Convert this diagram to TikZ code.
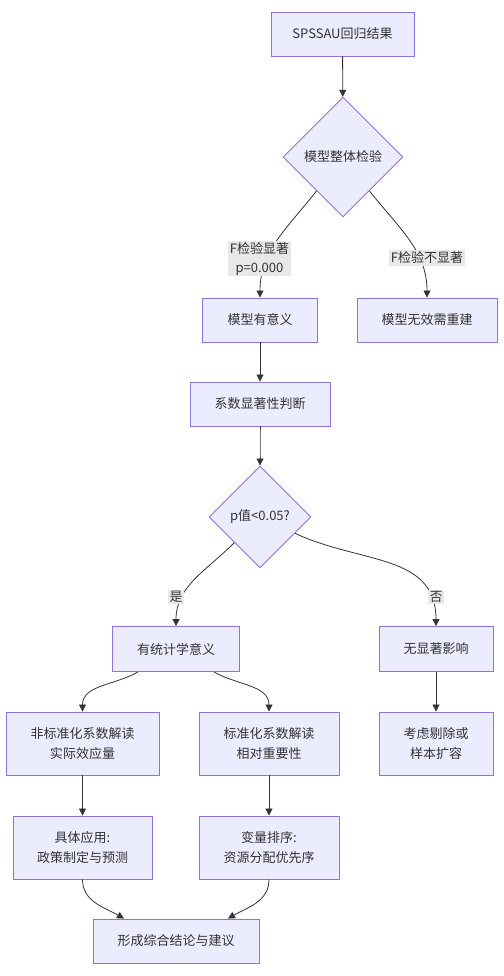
\documentclass[tikz,border=0pt]{standalone}
\usepackage{fontspec}
\setmainfont{Noto Sans CJK SC}
\usetikzlibrary{shapes.geometric,arrows.meta,calc}
\definecolor{boxfill}{HTML}{ECECFF}
\definecolor{boxline}{HTML}{9370DB}
\definecolor{edgec}{HTML}{333333}
\definecolor{lblfill}{HTML}{E8E8E8}
\begin{document}
\begin{tikzpicture}[x=1pt,y=-1pt,
 box/.style={rectangle,draw=boxline,fill=boxfill,line width=0.9pt,align=center,
   font=\fontsize{13}{20}\selectfont,text=edgec,inner sep=0pt},
 dia/.style={diamond,draw=boxline,fill=boxfill,line width=0.9pt,align=center,
   font=\fontsize{13}{20}\selectfont,text=edgec,inner sep=0pt},
 edge/.style={draw=edgec,line width=0.8pt,-{Triangle[length=7pt,width=7pt]}},
 lbl/.style={fill=lblfill,font=\fontsize{13}{19}\selectfont,text=edgec,inner sep=1.5pt,align=center}]
\useasboundingbox[fill=white] (0,0) rectangle (503,976);

\node[box,minimum width=143pt,minimum height=44pt] (n1) at (342.5,34) {SPSSAU回归结果};
\node[dia,minimum width=120pt,minimum height=120pt] (d1) at (343,157) {模型整体检验};
\node[box,minimum width=115pt,minimum height=44pt] (n2) at (260,320) {模型有意义};
\node[box,minimum width=140pt,minimum height=44pt] (n3) at (427,320) {模型无效需重建};
\node[box,minimum width=140pt,minimum height=44pt] (n4) at (260,404) {系数显著性判断};
\node[dia,minimum width=102pt,minimum height=102pt] (d2) at (260,517) {p值<0.05?};
\node[box,minimum width=127pt,minimum height=45pt] (n5) at (176,649) {有统计学意义};
\node[box,minimum width=114pt,minimum height=45pt] (n6) at (436,649) {无显著影响};
\node[box,minimum width=153pt,minimum height=63pt] (n7) at (82.5,743.5) {非标准化系数解读\\实际效应量};
\node[box,minimum width=140pt,minimum height=63pt] (n8) at (269,743.5) {标准化系数解读\\相对重要性};
\node[box,minimum width=114pt,minimum height=63pt] (n9) at (436,743.5) {考虑剔除或\\样本扩容};
\node[box,minimum width=139pt,minimum height=63pt] (n10) at (82.5,847.5) {具体应用:\\政策制定与预测};
\node[box,minimum width=140pt,minimum height=63pt] (n11) at (269,847.5) {变量排序:\\资源分配优先序};
\node[box,minimum width=166pt,minimum height=44pt] (n12) at (176,941) {形成综合结论与建议};

\coordinate (s57) at ($(n5.south)+(-38,0)$);
\coordinate (s58) at ($(n5.south)+(38,0)$);
\coordinate (e1012) at ($(n12.north)+(-52,0)$);
\coordinate (e1112) at ($(n12.north)+(52,0)$);

\draw[edge] (n1) -- (d1);
\draw[edge] (d1) to[out=-128,in=90] (n2);
\draw[edge] (d1) to[out=-52,in=90] (n3);
\draw[edge] (n2) -- (n4);
\draw[edge] (n4) to[out=-90,in=90] (d2);
\draw[edge] (d2) to[out=-135,in=90] (n5);
\draw[edge] (d2) to[out=-25,in=90,looseness=1.1] (n6);
\draw[edge] (s57) to[out=-150,in=90] (n7);
\draw[edge] (s58) to[out=-30,in=90] (n8);
\draw[edge] (n6) -- (n9);
\draw[edge] (n7) -- (n10);
\draw[edge] (n8) -- (n11);
\draw[edge] (n10) to[out=-90,in=150] (e1012);
\draw[edge] (n11) to[out=-90,in=30] (e1112);

\node[lbl] (l1) at (259.5,258.5) {F检验显著\\p=0.000};
\node[lbl] (l2) at (427,258) {F检验不显著};
\node[lbl] (l3) at (176,597) {是};
\node[lbl] (l4) at (436,597) {否};
\end{tikzpicture}
\end{document}
